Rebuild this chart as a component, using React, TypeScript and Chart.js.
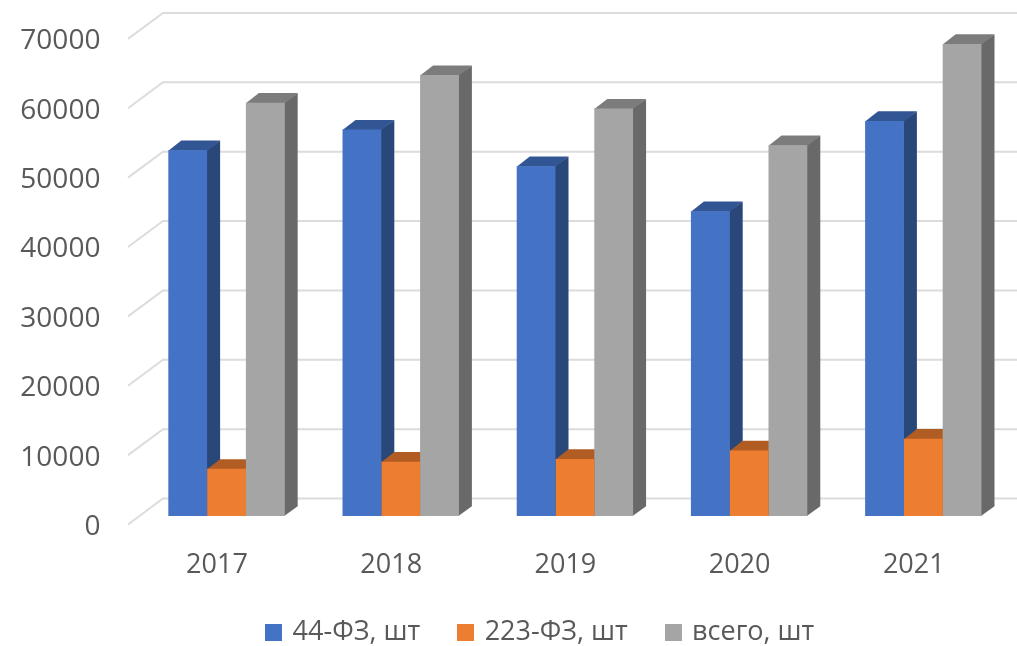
import React, { useEffect, useRef } from "react";
import { Chart, registerables } from "chart.js";

Chart.register(...registerables);

const years = ["2017", "2018", "2019", "2020", "2021"];
const law44 = [52740, 55700, 50430, 43940, 56930];
const law223 = [6800, 7820, 8220, 9450, 11140];
const total = [59570, 63560, 58730, 53460, 68040];

const seriesNames = ["44-ФЗ, шт", "223-ФЗ, шт", "всего, шт"];
const frontColors = ["#4472c4", "#ed7d31", "#a5a5a5"];
const sideColors = ["#2a4779", "#8f4d1f", "#696969"];
const topColors = ["#325594", "#b15c22", "#7c7c7c"];

const DEPTH_X = 13;
const DEPTH_Y = 9.7;
const FONT = "'Open Sans', sans-serif";
const TEXT = "#595959";

const poly = (ctx: CanvasRenderingContext2D, pts: number[][], color: string) => {
  ctx.beginPath();
  pts.forEach((p, i) => (i ? ctx.lineTo(p[0], p[1]) : ctx.moveTo(p[0], p[1])));
  ctx.closePath();
  ctx.fillStyle = color;
  ctx.fill();
};

const threeD = {
  id: "threeD",
  afterLayout(chart: any) {
    // the y labels sit left of the padding that centres the legend: widen their clip box
    chart.scales.y.left = 0;
  },
  beforeDatasetsDraw(chart: any) {
    const ctx: CanvasRenderingContext2D = chart.ctx;
    const y = chart.scales.y;
    ctx.save();
    ctx.strokeStyle = "#dcdcdc";
    ctx.lineWidth = 2;
    y.ticks.forEach((t: any) => {
      const py = y.getPixelForValue(t.value);
      ctx.beginPath();
      ctx.moveTo(128, py + 8.5);
      ctx.lineTo(163, py - 17.5);
      ctx.lineTo(chart.width, py - 17.5);
      ctx.stroke();
    });
    chart.data.datasets.forEach((_: any, i: number) => {
      chart.getDatasetMeta(i).data.forEach((bar: any) => {
        const l = bar.x - bar.width / 2;
        const r = bar.x + bar.width / 2;
        poly(ctx, [[r - 0.5, bar.y], [r + DEPTH_X, bar.y - DEPTH_Y], [r + DEPTH_X, bar.base - DEPTH_Y], [r - 0.5, bar.base]], sideColors[i]);
        poly(ctx, [[l, bar.y + 0.5], [l + DEPTH_X, bar.y - DEPTH_Y], [r + DEPTH_X, bar.y - DEPTH_Y], [r, bar.y + 0.5]], topColors[i]);
      });
    });
    ctx.restore();
  },
};

const legendSwatch = (color: string) => {
  const c = document.createElement("canvas");
  c.width = 17;
  c.height = 17;
  const g = c.getContext("2d")!;
  g.fillStyle = color;
  g.fillRect(0, 0, 17, 17);
  return c;
};

export default function App() {
  const ref = useRef<HTMLCanvasElement>(null);
  useEffect(() => {
    const chart = new Chart(ref.current!, {
      type: "bar",
      plugins: [threeD],
      data: {
        labels: years,
        datasets: [law44, law223, total].map((d, i) => ({
          label: seriesNames[i],
          data: d,
          backgroundColor: frontColors[i],
          pointStyle: legendSwatch(frontColors[i]),
          categoryPercentage: 0.668,
          barPercentage: 1,
        })),
      },
      options: {
        responsive: false,
        animation: false,
        layout: { padding: { top: 30.4, right: 6.6, left: 72, bottom: -10 } },
        plugins: {
          tooltip: { enabled: false },
          legend: {
            position: "bottom",
            labels: {
              color: TEXT,
              font: { family: FONT, size: 27 },
              usePointStyle: true,
              pointStyleWidth: 11,
              padding: 40,
              boxHeight: 17,
            },
          },
        },
        scales: {
          x: {
            grid: { display: false },
            border: { display: false },
            ticks: { color: TEXT, font: { family: FONT, size: 27 }, labelOffset: -9.5, padding: 25, maxRotation: 0 },
            afterFit: (s: any) => {
              s.height = 63;
              s.paddingLeft = 0;
              s.paddingRight = 0;
            },
          },
          y: {
            min: 0,
            max: 70000,
            grid: { display: false, drawTicks: false },
            border: { display: false },
            ticks: {
              stepSize: 10000,
              color: TEXT,
              font: { family: FONT, size: 28 },
              padding: 39,
              labelOffset: 11,
              callback: (v: any) => String(v),
            },
            afterFit: (s: any) => {
              s.width = 67.4;
              s.paddingTop = 0;
              s.paddingBottom = 0;
            },
          },
        },
      },
    } as any);
    return () => chart.destroy();
  }, []);
  return (
    <canvas
      ref={ref}
      width={1017}
      height={646}
      style={{ position: "absolute", left: 0, top: 0, display: "block" }}
    />
  );
}
